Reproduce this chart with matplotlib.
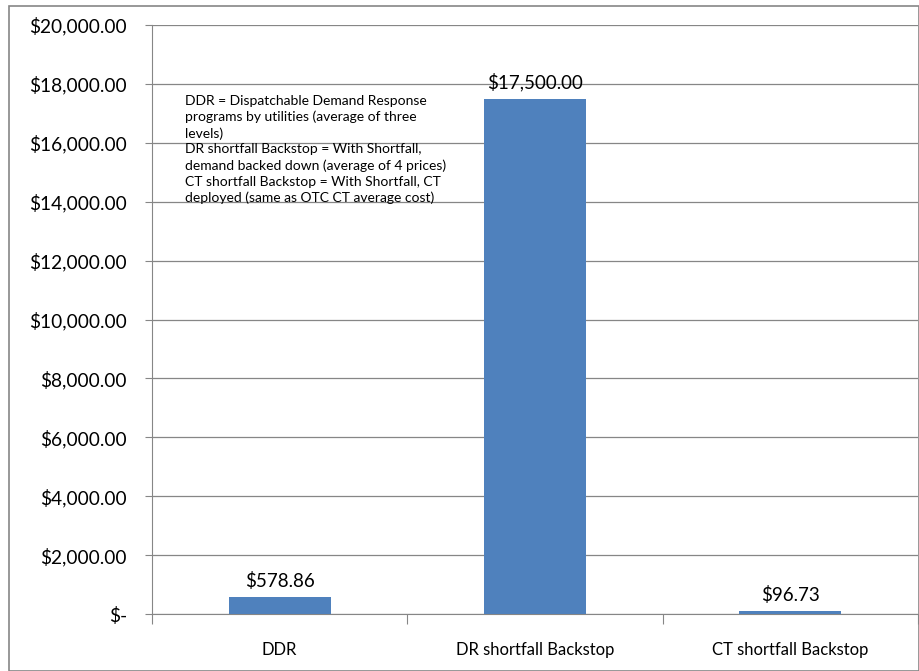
import matplotlib.pyplot as plt
from matplotlib.patches import Rectangle

categories = ["DDR", "DR shortfall Backstop", "CT shortfall Backstop"]
costs = [578.86, 17500.00, 96.73]
bar_labels = ["$578.86", "$17,500.00", "$96.73"]
y_ticks = [0, 2000, 4000, 6000, 8000, 10000, 12000, 14000, 16000, 18000, 20000]
y_tick_labels = ["$-"] + ["${:,.2f}".format(v) for v in y_ticks[1:]]
note_lines = [
    "DDR = Dispatchable Demand Response",
    "programs by utilities (average of three",
    "levels)",
    "DR shortfall Backstop = With Shortfall,",
    "demand backed down (average of 4 prices)",
    "CT shortfall Backstop = With Shortfall, CT",
    "deployed (same as OTC CT average cost)",
]

plt.rcParams["font.family"] = ["Lato", "DejaVu Sans"]

fig = plt.figure(figsize=(9.19, 6.71), dpi=100)
ax = fig.add_axes([152 / 919, 1 - 614 / 671, (918 - 152) / 919, (614 - 25) / 671])

x = range(len(categories))
ax.bar(x, costs, width=0.4, color="#4F81BD", zorder=3)

for i, (v, lab) in enumerate(zip(costs, bar_labels)):
    ax.text(i, v + 230, lab, ha="center", va="bottom", fontsize=13.5, color="#000000")

ax.set_xlim(-0.5, 2.5)
ax.set_ylim(0, 20000)
ax.set_yticks(y_ticks)
ax.set_yticklabels(y_tick_labels, fontsize=13.8)
ax.yaxis.grid(True, color="#868686", linewidth=0.9, zorder=0)

# category labels in the middle, tick marks on the boundaries
ax.set_xticks([-0.5, 0.5, 1.5, 2.5])
ax.set_xticklabels([])
ax.set_xticks(list(x), minor=True)
ax.set_xticklabels(categories, minor=True, fontsize=12)
ax.tick_params(axis="x", which="major", length=7, color="#868686")
ax.tick_params(axis="x", which="minor", length=0, pad=20)
ax.tick_params(axis="y", length=5, color="#868686", pad=13)

for side in ["top", "right"]:
    ax.spines[side].set_visible(False)
ax.spines["left"].set_color("#868686")
ax.spines["bottom"].set_color("#868686")

ax.text(0.043, 0.882, "\n".join(note_lines), transform=ax.transAxes,
        fontsize=10, va="top", ha="left", linespacing=1.38)

# outer chart border
fig.patches.append(Rectangle((9 / 919, 0), 1 - 9 / 919, 1 - 6 / 671, transform=fig.transFigure,
                             fill=False, edgecolor="#868686", linewidth=1.2))

fig.savefig("out.png", dpi=100)
